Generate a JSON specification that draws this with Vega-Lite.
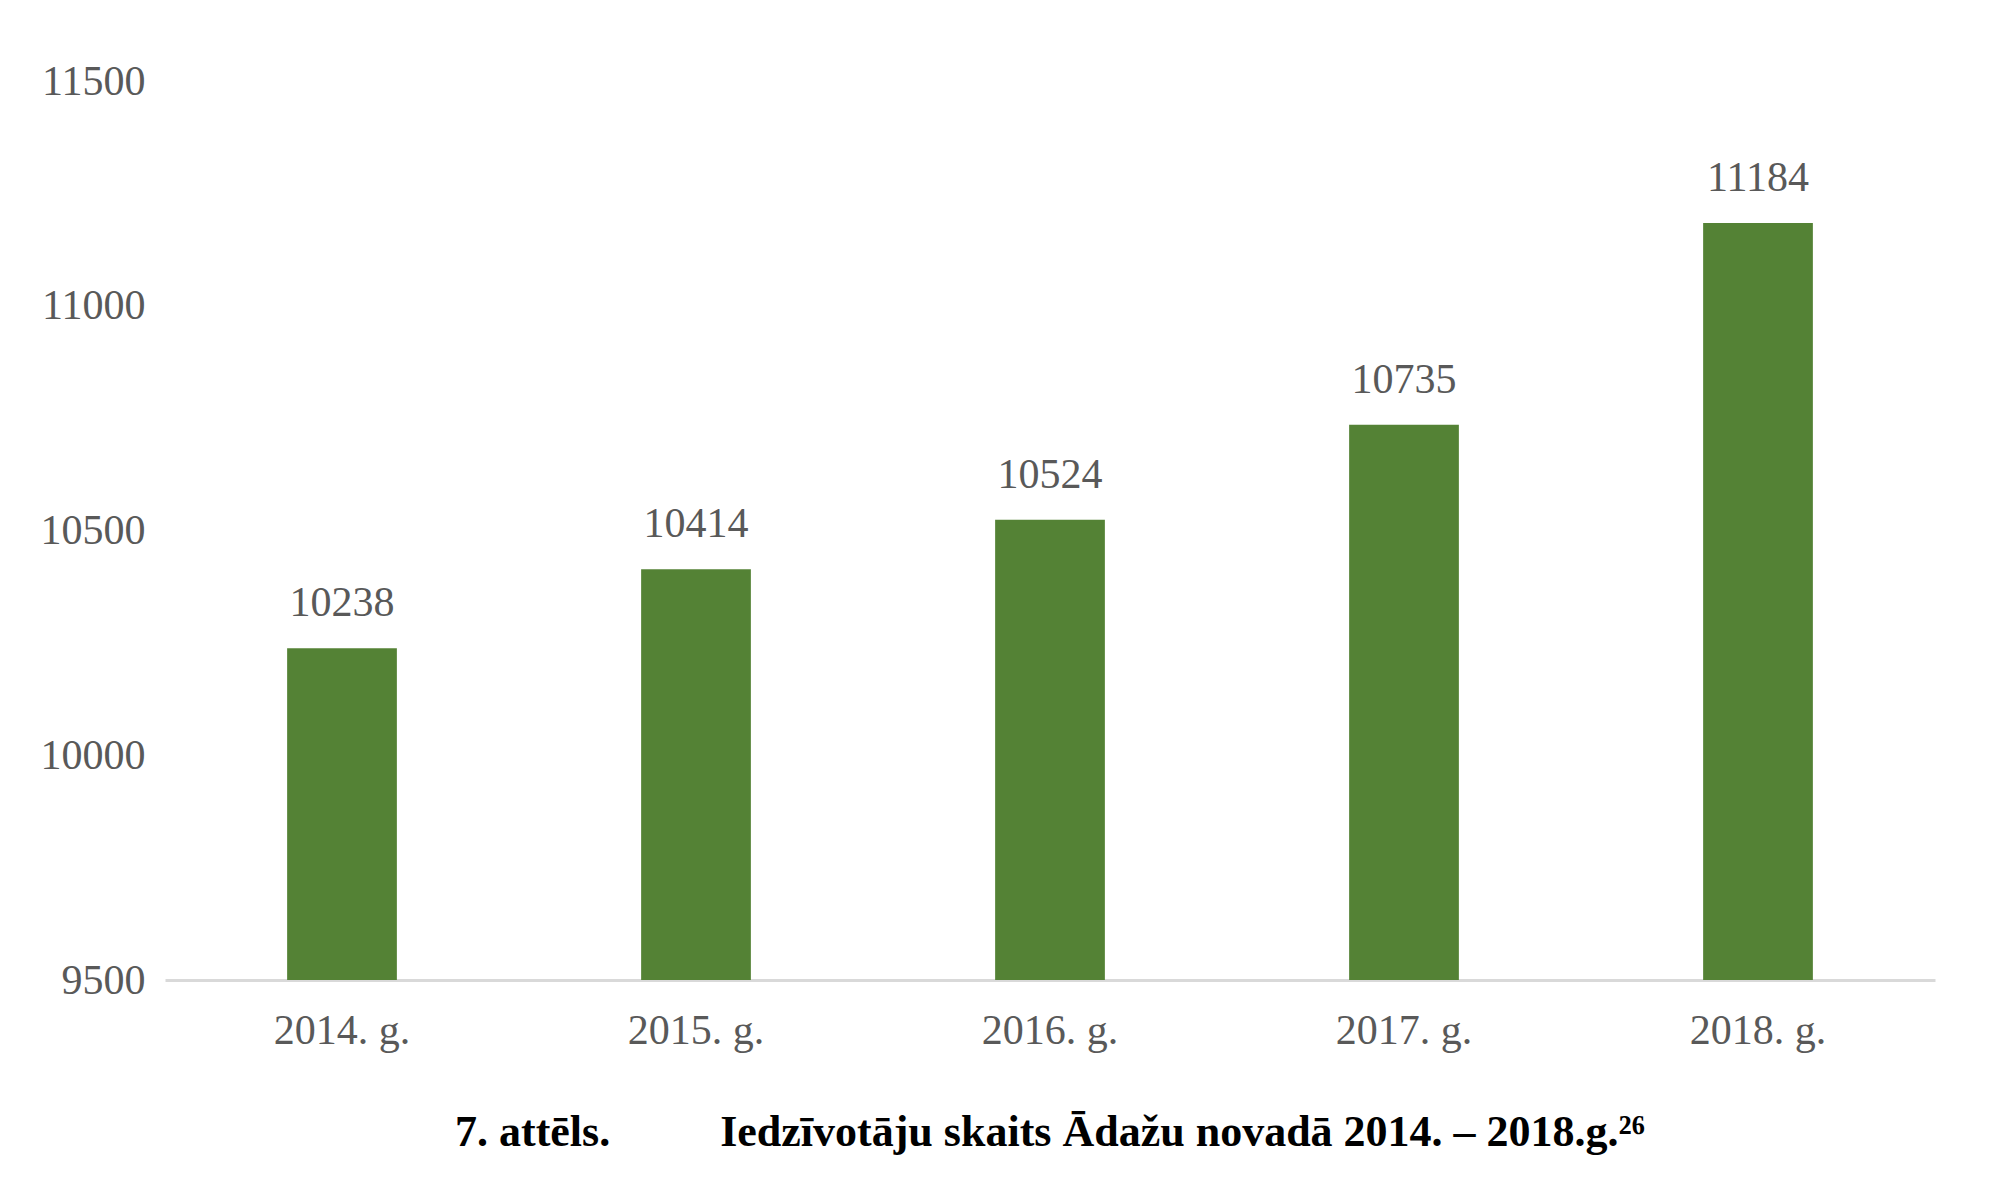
{
  "$schema": "https://vega.github.io/schema/vega-lite/v6.json",
  "autosize": {"type": "fit", "contains": "padding"},
  "width": 1995,
  "height": 1195,
  "padding": {"left": 40, "right": 60, "top": 60, "bottom": 40},
  "background": "white",
  "config": {
    "view": {"stroke": null},
    "font": "Liberation Serif"
  },
  "title": {
    "text": "7. attēls.\u00a0\u00a0\u00a0\u00a0\u00a0\u00a0\u00a0\u00a0\u00a0\u00a0Iedzīvotāju skaits Ādažu novadā 2014. – 2018.g.²⁶",
    "orient": "bottom",
    "anchor": "middle",
    "font": "Liberation Serif",
    "fontSize": 44,
    "fontWeight": "bold",
    "color": "black",
    "offset": 60
  },
  "data": {
    "values": [
      {"year": "2014. g.", "value": 10238},
      {"year": "2015. g.", "value": 10414},
      {"year": "2016. g.", "value": 10524},
      {"year": "2017. g.", "value": 10735},
      {"year": "2018. g.", "value": 11184}
    ]
  },
  "encoding": {
    "x": {
      "field": "year",
      "type": "nominal",
      "sort": null,
      "scale": {"paddingInner": 0.69, "paddingOuter": 0.345},
      "axis": {
        "title": null,
        "labelAngle": 0,
        "labelFont": "Liberation Serif",
        "labelFontSize": 42,
        "labelColor": "#595959",
        "labelPadding": 30,
        "ticks": false,
        "domainColor": "#d9d9d9",
        "domainWidth": 3
      }
    },
    "y": {
      "field": "value",
      "type": "quantitative",
      "scale": {"domain": [9500, 11500], "zero": false, "nice": false},
      "axis": {
        "title": null,
        "values": [9500, 10000, 10500, 11000, 11500],
        "format": "d",
        "grid": false,
        "domain": false,
        "ticks": false,
        "labelFont": "Liberation Serif",
        "labelFontSize": 42,
        "labelColor": "#595959",
        "labelPadding": 20
      }
    }
  },
  "layer": [
    {"mark": {"type": "bar", "color": "#548235", "clip": true}},
    {
      "mark": {"type": "text", "dy": -45, "font": "Liberation Serif", "fontSize": 42, "color": "#595959"},
      "encoding": {"text": {"field": "value", "type": "quantitative", "format": "d"}}
    }
  ]
}
